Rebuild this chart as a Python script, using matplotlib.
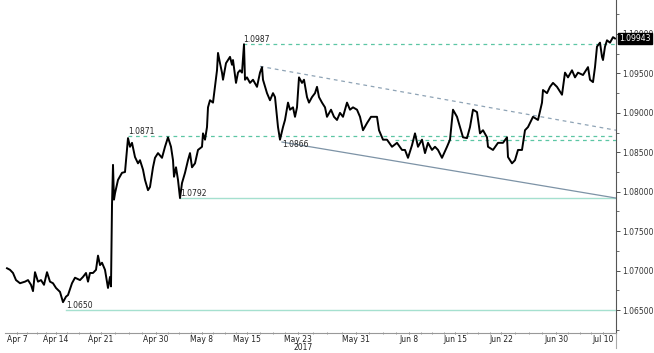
import matplotlib
matplotlib.use("Agg")
import matplotlib.pyplot as plt
from matplotlib.ticker import MultipleLocator, FixedLocator

# EUR/CHF style hourly chart, Apr 7 - Jul 10 2017 (bar index on x)
bars = [7, 10, 13, 16, 20, 25, 28, 31, 33, 35, 38, 41, 44, 47, 50, 53, 56, 60, 63, 66,
        68, 72, 75, 80, 83, 86, 88, 90, 93, 96, 98, 100, 102, 105, 108, 110, 111, 112, 113, 114,
        115, 118, 122, 125, 127, 128, 130, 132, 135, 138, 140, 143, 145, 148, 150, 153, 155, 158, 162, 165,
        168, 171, 173, 174, 176, 178, 180, 182, 185, 188, 190, 192, 195, 198, 202, 203, 205, 207, 208, 210,
        213, 215, 217, 218, 220, 222, 223, 226, 230, 232, 233, 236, 238, 240, 242, 244, 245, 247, 250, 253,
        257, 260, 262, 263, 267, 270, 273, 275, 277, 278, 280, 283, 285, 288, 290, 293, 295, 297, 299, 302,
        304, 307, 309, 312, 315, 317, 319, 322, 325, 327, 331, 334, 337, 340, 343, 347, 350, 353, 357, 360,
        363, 367, 371, 375, 377, 379, 383, 387, 392, 397, 402, 405, 408, 412, 415, 418, 422, 425, 428, 432,
        435, 438, 442, 447, 450, 453, 457, 460, 463, 467, 470, 473, 477, 480, 483, 487, 488, 493, 498, 503,
        507, 508, 512, 515, 518, 522, 525, 528, 533, 538, 542, 543, 547, 550, 553, 557, 562, 565, 568, 572,
        575, 578, 583, 588, 590, 593, 595, 597, 600, 602, 603, 605, 607, 610, 613, 615]

price = [1.0703, 1.0701, 1.0697, 1.0688, 1.0684, 1.0686, 1.0688, 1.0682, 1.0674, 1.0698,
         1.0686, 1.0688, 1.0682, 1.0698, 1.0686, 1.0684, 1.0678, 1.0673, 1.0660, 1.0667,
         1.0669, 1.0684, 1.0691, 1.0688, 1.0692, 1.0697, 1.0686, 1.0697, 1.0697, 1.0701,
         1.0719, 1.0707, 1.0710, 1.0701, 1.0678, 1.0692, 1.0680, 1.0783, 1.0834, 1.0790,
         1.0798, 1.0815, 1.0824, 1.0825, 1.0853, 1.0868, 1.0857, 1.0862, 1.0844, 1.0836,
         1.0840, 1.0828, 1.0815, 1.0802, 1.0806, 1.0831, 1.0843, 1.0849, 1.0843, 1.0857,
         1.0869, 1.0857, 1.0840, 1.0819, 1.0831, 1.0815, 1.0792, 1.0811, 1.0824, 1.0840,
         1.0849, 1.0831, 1.0836, 1.0853, 1.0857, 1.0874, 1.0866, 1.0882, 1.0907, 1.0916,
         1.0913, 1.0933, 1.0954, 1.0976, 1.0963, 1.0951, 1.0942, 1.0963, 1.0971, 1.0961,
         1.0967, 1.0938, 1.0951, 1.0954, 1.0951, 1.0987, 1.0942, 1.0945, 1.0938, 1.0942,
         1.0933, 1.0951, 1.0958, 1.0942, 1.0925, 1.0916, 1.0925, 1.0920, 1.0895, 1.0882,
         1.0866, 1.0882, 1.0891, 1.0913, 1.0904, 1.0907, 1.0895, 1.0907, 1.0945, 1.0938,
         1.0942, 1.0920, 1.0913, 1.0920, 1.0925, 1.0933, 1.0920, 1.0913, 1.0907, 1.0895,
         1.0904, 1.0895, 1.0891, 1.0900, 1.0895, 1.0913, 1.0904, 1.0907, 1.0904, 1.0895,
         1.0878, 1.0887, 1.0895, 1.0895, 1.0895, 1.0878, 1.0866, 1.0866, 1.0857, 1.0862,
         1.0853, 1.0853, 1.0843, 1.0859, 1.0874, 1.0857, 1.0866, 1.0849, 1.0862, 1.0853,
         1.0857, 1.0853, 1.0843, 1.0857, 1.0866, 1.0904, 1.0895, 1.0882, 1.0869, 1.0868,
         1.0882, 1.0904, 1.0901, 1.0874, 1.0878, 1.0869, 1.0857, 1.0853, 1.0862, 1.0862,
         1.0869, 1.0844, 1.0836, 1.0840, 1.0853, 1.0853, 1.0878, 1.0882, 1.0895, 1.0891,
         1.0913, 1.0929, 1.0925, 1.0933, 1.0938, 1.0933, 1.0923, 1.0951, 1.0945, 1.0954,
         1.0945, 1.0951, 1.0948, 1.0958, 1.0942, 1.0939, 1.0958, 1.0984, 1.0989, 1.0971,
         1.0967, 1.0984, 1.0992, 1.0989, 1.0996, 1.09943]

tick_bars = [17, 56, 101, 156, 202, 247, 298, 356, 409, 455, 501, 556, 603]
tick_labels = ["Apr 7", "Apr 14", "Apr 21", "Apr 30", "May 8", "May 15", "May 23",
               "May 31", "Jun 8", "Jun 15", "Jun 22", "Jun 30", "Jul 10"]

# horizontal levels: (value, start bar, label, dashed)
levels = [(1.0987, 243, "1.0987", True),
          (1.0871, 128, "1.0871", True),
          (1.0866, 395, None, True),
          (1.0792, 180, "1.0792", False),
          (1.0650, 66, "1.0650", False)]
label_1_0866 = (282, 1.0866)

# trend lines: (bar0, value0, bar1, value1)
resist = (260, 1.0959, 616, 1.0878)
support = (282, 1.0863, 616, 1.0792)

last_price = 1.09943

fig = plt.figure(figsize=(6.54, 3.53), dpi=100)
ax = fig.add_axes([5 / 654, 1 - 333 / 353, 611 / 654, 333 / 353])
ax.set_xlim(5, 616)
ax.set_ylim(1.06209, 1.10431)

dash_col = "#5cc6a4"
solid_col = "#a5e0cf"
for val, start, txt, dashed in levels:
    if dashed:
        ax.plot([start, 616], [val, val], color=dash_col, lw=0.9, ls=(0, (3, 3)), zorder=1)
    else:
        ax.plot([start, 616], [val, val], color=solid_col, lw=1.0, zorder=1)
    if txt is not None:
        ax.text(start, val, txt, fontsize=5.5, ha="left", va="bottom", color="#222222")
ax.text(label_1_0866[0], label_1_0866[1], "1.0866", fontsize=5.5, ha="left", va="top", color="#222222")

ax.plot([resist[0], resist[2]], [resist[1], resist[3]], color="#8ea3b5", lw=0.9, ls=(0, (3, 3)), zorder=1)
ax.plot([support[0], support[2]], [support[1], support[3]], color="#7d93a6", lw=0.9, zorder=1)

ax.plot(bars, price, color="black", lw=1.4, zorder=3)

# axes styling
for side in ["left", "top"]:
    ax.spines[side].set_visible(False)
ax.spines["right"].set_color("#555555")
ax.spines["bottom"].set_color("#999999")
ax.yaxis.tick_right()
ax.yaxis.set_major_locator(MultipleLocator(0.005))
ax.yaxis.set_minor_locator(MultipleLocator(0.0025))
ax.yaxis.set_major_formatter(plt.FuncFormatter(lambda v, p: f"{v:.5f}"))
ax.tick_params(axis="y", which="major", direction="out", length=3, width=0.6,
               labelsize=5.5, pad=1.5, colors="#333333")
ax.tick_params(axis="y", which="minor", direction="out", length=2, width=0.6, colors="#555555")

ax.xaxis.set_major_locator(FixedLocator(tick_bars))
ax.set_xticklabels(tick_labels)
minor = []
for a, b in zip(tick_bars[:-1], tick_bars[1:]):
    minor += [a + (b - a) * k / 4 for k in (1, 2, 3)]
ax.xaxis.set_minor_locator(FixedLocator(minor))
ax.tick_params(axis="x", which="major", direction="inout", length=2, width=0.6,
               labelsize=5.5, pad=0.5, colors="#555555", labelcolor="#222222")
ax.tick_params(axis="x", which="minor", direction="inout", length=2, width=0.6, colors="#888888")
ax.text(303, -0.044, "2017", transform=ax.get_xaxis_transform(), fontsize=5.5,
        ha="center", va="center", color="#222222")

# right axis line runs a little below the plot
ax.plot([1, 1], [0, -0.045], transform=ax.transAxes, color="#aaaaaa", lw=0.8, clip_on=False)

ax.text(619, last_price, f"{last_price:.5f}", fontsize=5.5, color="white", ha="left", va="center",
        bbox=dict(boxstyle="square,pad=0.15", fc="black", ec="black"), zorder=5, clip_on=False)

fig.savefig("out.png", dpi=100)
